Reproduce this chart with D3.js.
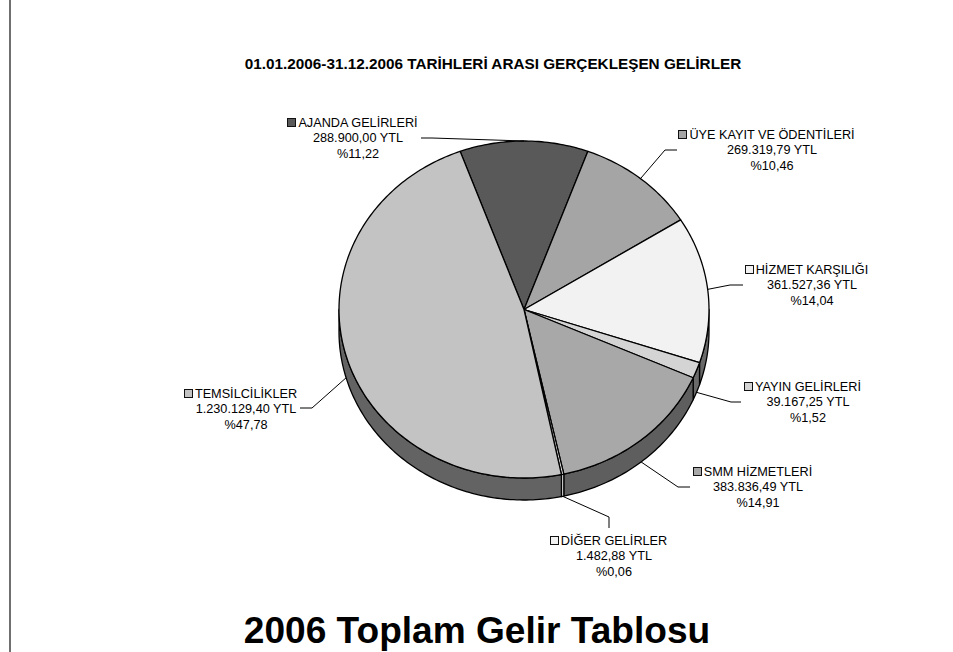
<!DOCTYPE html>
<html><head><meta charset="utf-8">
<script src="https://cdn.jsdelivr.net/npm/d3@7/dist/d3.min.js"></script>
<style>html,body{margin:0;padding:0;background:#fff}svg{display:block}text{font-family:"Liberation Sans",Arial,sans-serif;fill:#000}</style>
</head><body><svg id="c" width="953" height="652"></svg>
<script>
const chartTitle = "01.01.2006-31.12.2006 TARİHLERİ ARASI GERÇEKLEŞEN GELİRLER";
const pageTitle = "2006 Toplam Gelir Tablosu";
const categories = ["AJANDA GELİRLERİ","ÜYE KAYIT VE ÖDENTİLERİ","HİZMET KARŞILIĞI","YAYIN GELİRLERİ","SMM HİZMETLERİ","DİĞER GELİRLER","TEMSİLCİLİKLER"];
const values = [288900.00,269319.79,361527.36,39167.25,383836.49,1482.88,1230129.40];
const percents = [11.22,10.46,14.04,1.52,14.91,0.06,47.78];
const topColors = ["#595959","#a5a5a5","#f2f2f2","#d4d4d4","#a8a8a8","#f2f2f2","#c3c3c3"];
const sideColors = ["#333333","#555555","#696969","#6a6a6a","#5e5e5e","#f2f2f2","#636363"];

// layout only: label text centre, first-line baseline, and leader elbow/end
const labelLayout = [
  {cx:358,y:126.5,bend:[432,138],end:[421,138]},
  {cx:772,y:138.5,bend:[665,150],end:[677,150]},
  {cx:812,y:273.5,bend:[730,285],end:[743,285]},
  {cx:808,y:390.5,bend:[731,402],end:[741,402]},
  {cx:758,y:475.5,bend:[678,487],end:[690,487]},
  {cx:614,y:544.5,bend:[609,517],end:[609,528]},
  {cx:246,y:397.5,bend:[312,408],end:[300,408]}
];

const W=953,H=652,depth=22;
const svg=d3.select("#c");
const x=d3.scaleLinear().domain([-1,1]).range([339,709]);
const y=d3.scaleLinear().domain([-1,1]).range([141,478]);
const px=a=>x(Math.sin(a)), py=a=>y(-Math.cos(a));
const rad=d=>d*Math.PI/180;
const pie=d3.pie().sort(null).startAngle(rad(-20.2)).endAngle(rad(339.8));
const arcs=pie(values);
// a hairline slice keeps a visible sliver, as in the source chart
const minSweep=rad(0.75);
arcs.forEach((d,i)=>{
  if(d.endAngle-d.startAngle<minSweep && arcs[i+1]){ d.endAngle=d.startAngle+minSweep; arcs[i+1].startAngle=d.endAngle; }
});
const line=d3.line();
const fmt=d3.formatLocale({decimal:",",thousands:".",grouping:[3],currency:["",""]});
const money=fmt.format(",.2f"), pct=fmt.format(".2f");
const sweep=(a0,a1)=>{const n=Math.max(2,Math.ceil((a1-a0)/rad(1)));return d3.range(n+1).map(i=>a0+(a1-a0)*i/n);};

svg.append("line").attr("x1",10).attr("x2",10).attr("y1",0).attr("y2",H).attr("stroke","#222").attr("stroke-width",1.3);

svg.append("text").attr("x",493).attr("y",69).attr("text-anchor","middle").attr("font-size",15.3).attr("font-weight","bold").text(chartTitle);
svg.append("text").attr("x",477).attr("y",643).attr("text-anchor","middle").attr("font-size",37.1).attr("font-weight","bold").text(pageTitle);

// side walls (front half of the rim only)
const front=[rad(90),rad(270)];
const wallSpans=arcs.flatMap((d,i)=>{
  const spans=[];
  [0,2*Math.PI].forEach(off=>{
    const a0=Math.max(d.startAngle+off,front[0]),a1=Math.min(d.endAngle+off,front[1]);
    if(a1>a0) spans.push({i,a0,a1});
  });
  return spans;
});
svg.append("g").selectAll("path").data(wallSpans).join("path")
  .attr("d",s=>{
    const pts=sweep(s.a0,s.a1);
    const rim=pts.map(a=>[px(a),py(a)]);
    const low=pts.slice().reverse().map(a=>[px(a),py(a)+depth]);
    return line(rim.concat(low))+"Z";
  })
  .attr("fill",s=>sideColors[s.i]).attr("stroke","#000").attr("stroke-width",1.3).attr("stroke-linejoin","round");

// top faces
svg.append("g").selectAll("path").data(arcs).join("path")
  .attr("d",d=>line([[x(0),y(0)]].concat(sweep(d.startAngle,d.endAngle).map(a=>[px(a),py(a)])))+"Z")
  .attr("fill",(d,i)=>topColors[i]).attr("stroke","#000").attr("stroke-width",1.3).attr("stroke-linejoin","round");

// leader lines
const mid=d=>(d.startAngle+d.endAngle)/2;
const onFront=a=>Math.cos(a)<0;
svg.append("g").selectAll("path").data(arcs).join("path")
  .attr("d",(d,i)=>{
    const a=mid(d),start=[px(a),py(a)+(onFront(a)?depth:0)];
    return line([start,labelLayout[i].bend,labelLayout[i].end]);
  })
  .attr("fill","none").attr("stroke","#000").attr("stroke-width",1);

// labels
const lab=svg.append("g").selectAll("g").data(categories).join("g");
lab.each(function(name,i){
  const g=d3.select(this),L=labelLayout[i];
  const lines=[name,money(values[i])+" YTL","%"+pct(percents[i])];
  const fs=12.7,keyW=8,gap=3;
  const first=g.append("text").attr("font-size",fs).attr("y",L.y).attr("x",L.cx).attr("text-anchor","middle").text(lines[0]);
  const w=first.node().getComputedTextLength();
  const left=L.cx-w/2-gap-keyW;
  g.append("rect").attr("x",Math.round(left)+.5).attr("y",Math.round(L.y-9)+.5).attr("width",keyW).attr("height",keyW)
    .attr("fill",topColors[i]).attr("stroke","#111").attr("stroke-width",1);
  lines.slice(1).forEach((t,k)=>g.append("text").attr("font-size",fs).attr("text-anchor","middle")
    .attr("x",L.cx).attr("y",L.y+15.8*(k+1)).text(t));
});
</script></body></html>
